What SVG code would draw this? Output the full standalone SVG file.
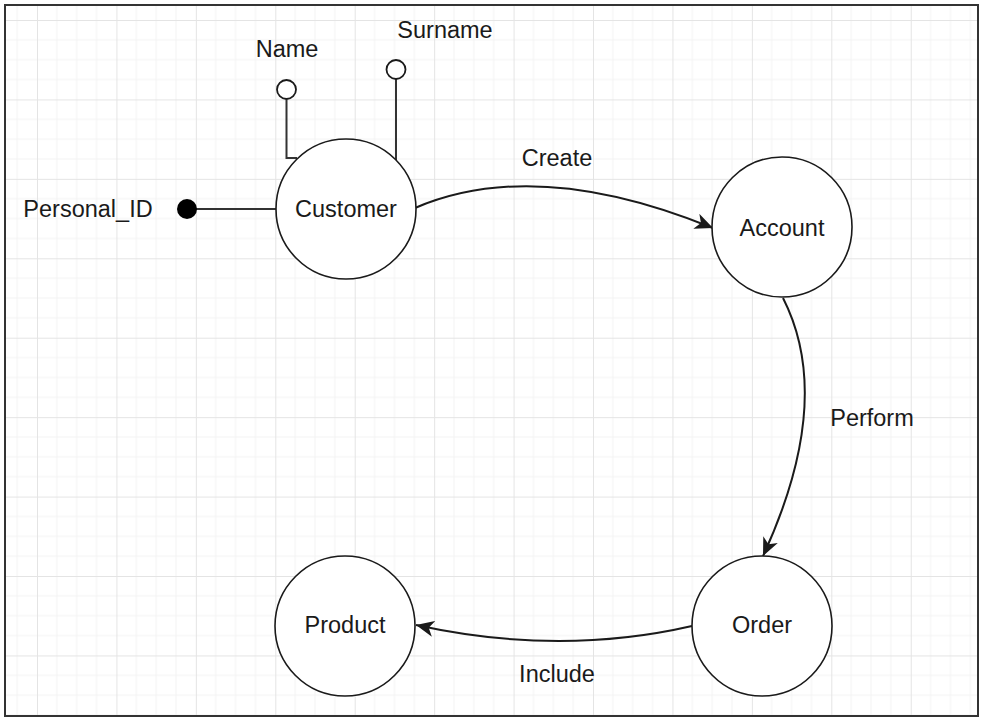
<svg xmlns="http://www.w3.org/2000/svg" width="986" height="726" viewBox="0 0 986 726">
  <style>
    .node { fill: #ffffff; stroke: #1a1a1a; stroke-width: 1.6; }
    .lbl { font-family: "Liberation Sans", Arial, sans-serif; font-size: 23.5px; fill: #1a1a1a; text-anchor: middle; }
    .attr { fill: none; stroke: #333333; stroke-width: 2; }
    .edge { fill: none; stroke: #1a1a1a; stroke-width: 2; }
  </style>
  <defs>
    <pattern id="grid" patternUnits="userSpaceOnUse" x="37" y="20" width="79.43" height="79.43">
      <path d="M19.86 0V79.43M39.71 0V79.43M59.57 0V79.43M0 19.86H79.43M0 39.71H79.43M0 59.57H79.43" stroke="#f3f3f3" stroke-width="1" fill="none"/>
      <path d="M0.5 0V79.43M0 0.5H79.43" stroke="#e4e4e4" stroke-width="1" fill="none"/>
    </pattern>
    <marker id="arrow" markerUnits="userSpaceOnUse" markerWidth="22" markerHeight="16" viewBox="0 0 22 16" refX="18" refY="8" orient="auto">
      <path d="M0 0 L18 8 L0 16 L5 8 Z" fill="#1a1a1a"/>
    </marker>
  </defs>
  <rect x="0" y="0" width="986" height="726" fill="#ffffff"/>
  <rect x="6" y="6" width="971" height="709" fill="url(#grid)"/>
  <rect x="5" y="5" width="973" height="711" fill="none" stroke="#333333" stroke-width="2"/>

  <g id="connectors">
    <path class="edge" d="M415 208 Q536 156 713 228" marker-end="url(#arrow)"/>
    <path class="edge" d="M783 298 Q835 400 763 556" marker-end="url(#arrow)"/>
    <path class="edge" d="M692 626 Q559.5 656.5 416 625" marker-end="url(#arrow)"/>
    <text class="lbl" x="557" y="166">Create</text>
    <text class="lbl" x="872" y="426">Perform</text>
    <text class="lbl" x="557" y="682">Include</text>
  </g>

  <g id="attr-name">
    <polyline class="attr" points="286.5,99.5 286.5,158 297,158"/>
    <circle cx="286.5" cy="89.5" r="9.5" fill="#ffffff" stroke="#1a1a1a" stroke-width="1.8"/>
    <text class="lbl" x="287" y="57">Name</text>
  </g>
  <g id="attr-surname">
    <line class="attr" x1="396" y1="79" x2="396" y2="161"/>
    <circle cx="396" cy="69.5" r="9.5" fill="#ffffff" stroke="#1a1a1a" stroke-width="1.8"/>
    <text class="lbl" x="445" y="38">Surname</text>
  </g>
  <g id="attr-personal-id">
    <line class="attr" x1="190" y1="209" x2="276" y2="209"/>
    <circle cx="187" cy="209" r="10" fill="#000000"/>
    <text class="lbl" x="88" y="217">Personal_ID</text>
  </g>

  <g id="customer">
    <circle class="node" cx="346" cy="209" r="70"/>
    <text class="lbl" x="346" y="217">Customer</text>
  </g>
  <g id="account">
    <circle class="node" cx="782" cy="227" r="70"/>
    <text class="lbl" x="782" y="236">Account</text>
  </g>
  <g id="order">
    <circle class="node" cx="762" cy="626" r="70"/>
    <text class="lbl" x="762" y="633">Order</text>
  </g>
  <g id="product">
    <circle class="node" cx="345" cy="626" r="70"/>
    <text class="lbl" x="345" y="633">Product</text>
  </g>
</svg>
